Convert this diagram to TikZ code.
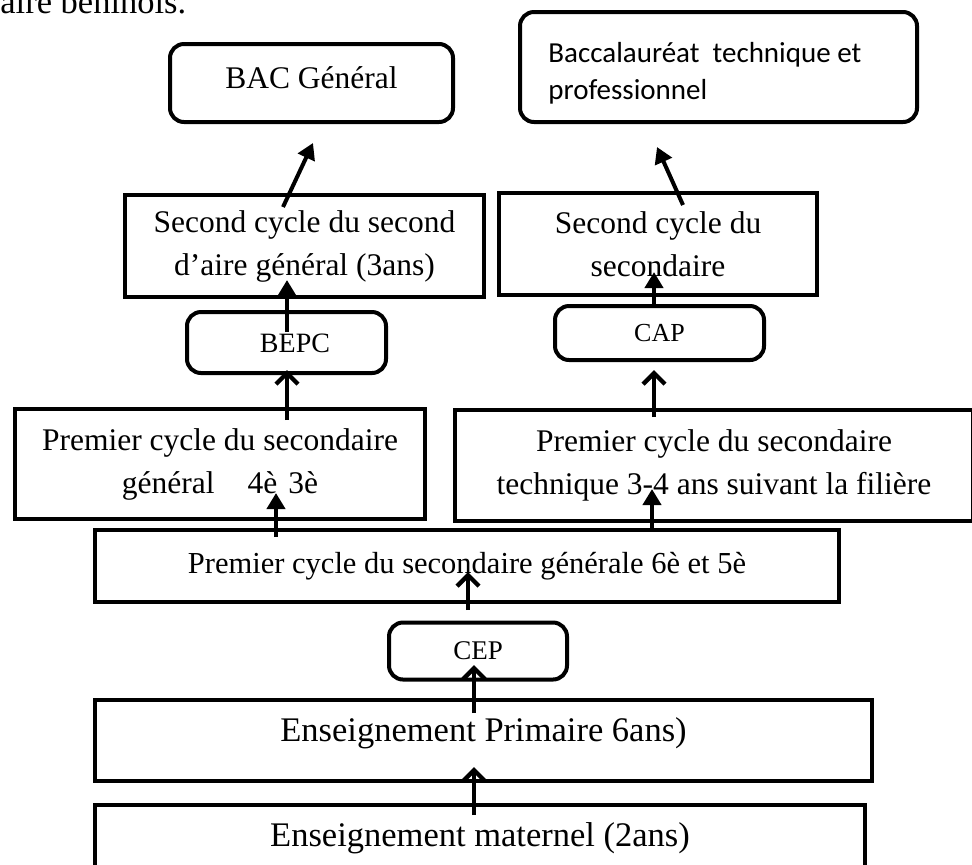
\documentclass[tikz,border=0pt]{standalone}
\usepackage{fontspec}
\setmainfont{Liberation Serif}
\newfontfamily\calib{Carlito}
\usetikzlibrary{arrows.meta,calc}
\begin{document}
\begin{tikzpicture}[x=0.5pt,y=-0.5pt,
  box/.style={draw=black,line width=2pt,inner sep=0pt,align=center,font=\fontsize{15.75pt}{21.5pt}\selectfont},
  rbox/.style={box,rounded corners=7pt},
  lbl/.style={inner sep=0pt,align=center},
  arr/.style={line width=2pt,-{Triangle[length=8pt,width=9pt]}},
  barb/.style={line width=2pt,-{Straight Barb[length=5.5pt,width=11pt,line width=2.2pt]}}]
\useasboundingbox (0,0) rectangle (972,864);
% cut-off line of body text
\node[anchor=base west,inner sep=0pt,font=\fontsize{17.25pt}{20pt}\selectfont] (topline) at (0,13) {aire béninois.};
% boxes
\node[rbox,minimum width=141.5pt,minimum height=39pt] (bac) at (311.5,83) {};
\node[lbl,font=\fontsize{15.75pt}{21.5pt}\selectfont] (bact) at (311.5,78) {BAC Général};
\node[rbox,minimum width=198.5pt,minimum height=55pt] (bacc) at (718.5,67) {};
\node[lbl,anchor=west,align=left,font=\calib\fontsize{14.5pt}{18.5pt}\selectfont] (bacct) at (548,73.5) {Baccalauréat\ \ technique et\\professionnel};
\node[box,minimum width=179.5pt,minimum height=51pt] (sc1) at (304.5,246) {Second cycle du second\\d’aire général (3ans)};
\node[box,minimum width=159pt,minimum height=51pt] (sc2) at (658,244) {Second cycle du\\secondaire};
\node[rbox,minimum width=99.5pt,minimum height=30.5pt] (bepc) at (286.5,342.5) {};
\node[lbl,font=\fontsize{14pt}{16pt}\selectfont] (bepct) at (295,343) {BEPC};
\node[rbox,minimum width=104.5pt,minimum height=27pt,font=\fontsize{13pt}{15pt}\selectfont] (cap) at (659.5,333) {CAP};
\node[box,minimum width=205pt,minimum height=55pt] (p1l) at (220,464) {Premier cycle du secondaire\\général\hspace{1.05em}4è\hspace{0.35em}3è};
\node[box,minimum width=259pt,minimum height=55.5pt] (p1r) at (714,465.5) {Premier cycle du secondaire\\technique 3-4 ans suivant la filière};
\node[box,minimum width=372pt,minimum height=36pt,font=\fontsize{15.25pt}{17pt}\selectfont] (mid) at (467,566) {Premier cycle du secondaire générale 6è et 5è};
\node[rbox,minimum width=89pt,minimum height=28.5pt,font=\fontsize{13.5pt}{16pt}\selectfont] (cep) at (478,651) {CEP};
\node[box,minimum width=388.5pt,minimum height=40.5pt] (prim) at (483.5,740.5) {};
\node[lbl,font=\fontsize{17.25pt}{20pt}\selectfont] (primt) at (483.5,733) {Enseignement Primaire 6ans)};
\node[box,minimum width=385pt,minimum height=33pt,font=\fontsize{17.25pt}{20pt}\selectfont] (mat) at (480,838) {Enseignement maternel (2ans)};
% arrows
\draw[barb] ($(mat.center)+(-6,-23)$) -- ($(prim.center)+(-9.5,26.5)$);
\draw[barb] ($(prim.center)+(-9.5,-27.5)$) -- ($(cep.center)+(-4,14)$);
\draw[barb] ($(cep.center)+(-10,-41)$) -- ($(mid.center)+(1,6)$);
\draw[arr] ($(mid.center)+(-191,-29)$) -- ($(p1l.center)+(56,29)$);
\draw[arr] ($(mid.center)+(185,-37)$) -- ($(p1r.center)+(-62,23.5)$);
\draw[barb] ($(p1l.center)+(67,-44)$) -- ($(bepc.center)+(0.5,27.5)$);
\draw[arr] ($(bepc.center)+(0.5,-10.5)$) -- ($(sc1.center)+(-17.5,34)$);
\draw[arr] ($(sc1.center)+(-21.5,-39)$) -- ($(bac.center)+(1.5,60)$);
\draw[arr] ($(cap.center)+(-5.5,-28)$) -- ($(sc2.center)+(-4,28)$);
\draw[barb] ($(p1r.center)+(-60,-48.5)$) -- ($(cap.center)+(-5.5,37)$);
\draw[arr] ($(sc2.center)+(25,-39)$) -- ($(bacc.center)+(-61.5,80)$);
\end{tikzpicture}
\end{document}
